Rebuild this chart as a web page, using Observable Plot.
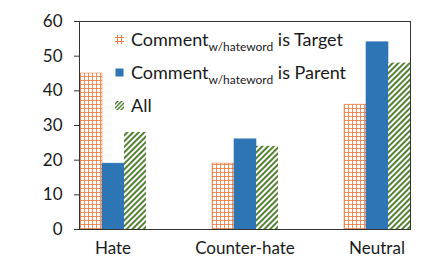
<!DOCTYPE html>
<html>
<head>
<meta charset="utf-8">
<script src="https://cdn.jsdelivr.net/npm/d3@7"></script>
<script src="https://cdn.jsdelivr.net/npm/@observablehq/plot@0.6"></script>
<style>
  html, body { margin: 0; padding: 0; background: #fff; }
  #chart { position: relative; width: 443px; height: 259px; font-family: Lato, "Open Sans", sans-serif; color: #1a1a1a; }
  #legend { position: absolute; left: 115px; top: 23px; font-size: 18px; line-height: 33px; }
  #legend .row { display: flex; align-items: center; height: 33px; }
  #legend svg { margin-right: 7px; }
  #legend sub { font-size: 12px; vertical-align: -5px; line-height: 0; }
</style>
</head>
<body>
<div id="chart"></div>
<script>
const categories = ["Hate", "Counter-hate", "Neutral"];
const seriesKeys = ["target", "parent", "all"];
const targetValues = [45, 19, 36];
const parentValues = [19, 26, 54];
const allValues = [28, 24, 48];
const yTicks = [0, 10, 20, 30, 40, 50, 60];
const legendLabels = [
  ["Comment", "w/hateword", " is Target"],
  ["Comment", "w/hateword", " is Parent"],
  ["All", "", ""]
];
const fills = {target: "url(#pTarget)", parent: "#2E75B6", all: "url(#pAll)"};
const strokes = {target: "#EE8A55", parent: "#2E75B6", all: "none"};

const valuesBySeries = {target: targetValues, parent: parentValues, all: allValues};
const data = categories.flatMap((c, i) => seriesKeys.map(s => ({cat: c, series: s, value: valuesBySeries[s][i]})));

const plot = Plot.plot({
  width: 443,
  height: 259,
  marginLeft: 47,
  marginRight: 1,
  marginTop: 21,
  marginBottom: 30,
  style: {fontFamily: "Lato, 'Open Sans', sans-serif", fontSize: "16px", color: "#1a1a1a", background: "#fff"},
  fx: {domain: categories, paddingInner: 0.49, paddingOuter: 0.24, label: null},
  x: {domain: seriesKeys, padding: 0, axis: null},
  y: {domain: [0, 60], label: null},
  marks: [
    ...seriesKeys.map(s => Plot.barY(data.filter(d => d.series === s), {
      fx: "cat", x: "series", y: "value",
      fill: fills[s], stroke: strokes[s], strokeWidth: 0.6, inset: 0
    })),
    Plot.frame({stroke: "#333", strokeWidth: 1, facet: "super"}),
    Plot.axisY({ticks: yTicks, tickSize: 5, tickPadding: 12, fontSize: 17, stroke: "#333", label: null}),
    Plot.axisFx({anchor: "bottom", tickSize: 0, tickPadding: 12, fontSize: 17, label: null})
  ]
});

const svg = d3.select(plot);
const defs = svg.insert("defs", ":first-child");
const pt = defs.append("pattern").attr("id", "pTarget").attr("patternUnits", "userSpaceOnUse")
  .attr("width", 4).attr("height", 4);
pt.append("rect").attr("width", 4).attr("height", 4).attr("fill", "#fff");
pt.append("path").attr("d", "M0 0.5H4M0.5 0V4").attr("stroke", "#EC7C3F").attr("stroke-width", 1).attr("stroke-opacity", 0.85);
const pa = defs.append("pattern").attr("id", "pAll").attr("patternUnits", "userSpaceOnUse")
  .attr("width", 4).attr("height", 4).attr("patternTransform", "rotate(45)");
pa.append("rect").attr("width", 4).attr("height", 4).attr("fill", "#fff");
pa.append("rect").attr("width", 2).attr("height", 4).attr("fill", "#548235");

const chart = document.getElementById("chart");
chart.appendChild(plot);

const swatches = {
  target: `<svg width="9" height="9"><path d="M0 2.5H9M0 6.5H9M2.5 0V9M6.5 0V9" stroke="#EC7C3F" stroke-width="1"/></svg>`,
  parent: `<svg width="9" height="9"><rect x="0.5" y="0.5" width="8" height="8" fill="#2E75B6"/></svg>`,
  all: `<svg width="9" height="9"><path d="M-1 4L4 -1M-1 8L8 -1M1 10L10 1M5 10L10 5" stroke="#548235" stroke-width="1.5"/></svg>`
};

const legend = document.createElement("div");
legend.id = "legend";
legend.innerHTML = seriesKeys.map((s, i) => {
  const [a, sub, b] = legendLabels[i];
  return `<div class="row">${swatches[s]}<span>${a}${sub ? `<sub>${sub}</sub>` : ""}${b}</span></div>`;
}).join("");
chart.appendChild(legend);
</script>
</body>
</html>
